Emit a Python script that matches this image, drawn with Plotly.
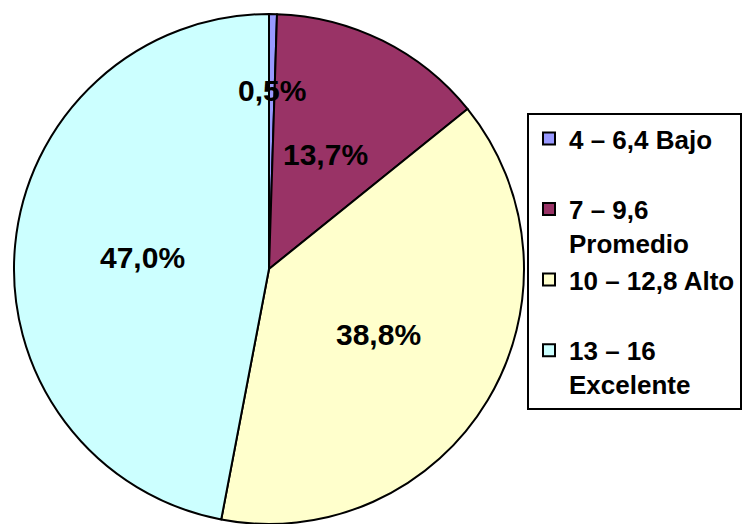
import math
import plotly.graph_objects as go

# Score bands and their share of students (%)
bands = ["4 – 6,4 Bajo", "7 – 9,6<br>Promedio", "10 – 12,8 Alto", "13 – 16<br>Excelente"]
shares = [0.5, 13.7, 38.8, 47.0]
colors = ["#9999FF", "#993366", "#FFFFCC", "#CCFFFF"]

# Radial position of each percentage label, as a fraction of the radius
label_radius = [0.70, 0.50, 0.50, 0.50]

W, H = 744, 524
dom_x = [14 / W, 524 / W]
dom_y = [0.0, 510 / H]

# Single-line legend entries get an empty second line so every entry has equal height
legend_text = [b if "<br>" in b else b + "<br>\u00a0" for b in bands]

fig = go.Figure(
    go.Pie(
        labels=legend_text,
        values=shares,
        sort=False,
        direction="clockwise",
        rotation=0,
        textinfo="none",
        hoverinfo="label+percent",
        marker=dict(colors=colors, line=dict(color="black", width=2)),
        domain=dict(x=dom_x, y=dom_y),
    )
)

# Percentage labels placed along each slice's mid-angle
cx = (dom_x[0] + dom_x[1]) / 2 * W
cy = H - (dom_y[0] + dom_y[1]) / 2 * H
r = min((dom_x[1] - dom_x[0]) * W, (dom_y[1] - dom_y[0]) * H) / 2
total = sum(shares)
cum = 0.0
annotations = []
for v, f in zip(shares, label_radius):
    mid = math.radians((cum + v / 2) / total * 360)
    cum += v
    px = cx + f * r * math.sin(mid)
    py = cy - f * r * math.cos(mid)
    annotations.append(
        dict(
            x=px / W,
            y=1 - py / H,
            xref="paper",
            yref="paper",
            xanchor="center",
            yanchor="middle",
            text=f"{v:.1f}".replace(".", ",") + "%",
            showarrow=False,
            font=dict(family="Liberation Sans", size=30, color="black", weight="bold"),
        )
    )

fig.update_layout(
    width=W,
    height=H,
    margin=dict(l=0, r=0, t=0, b=0),
    paper_bgcolor="white",
    plot_bgcolor="white",
    annotations=annotations,
    showlegend=True,
    legend=dict(
        x=527 / W,
        y=1 - 113 / H,
        xanchor="left",
        yanchor="top",
        bgcolor="white",
        bordercolor="black",
        borderwidth=2,
        valign="top",
        font=dict(family="Liberation Sans", size=26, color="black", weight="bold"),
    ),
)

fig.write_html("out.html")
